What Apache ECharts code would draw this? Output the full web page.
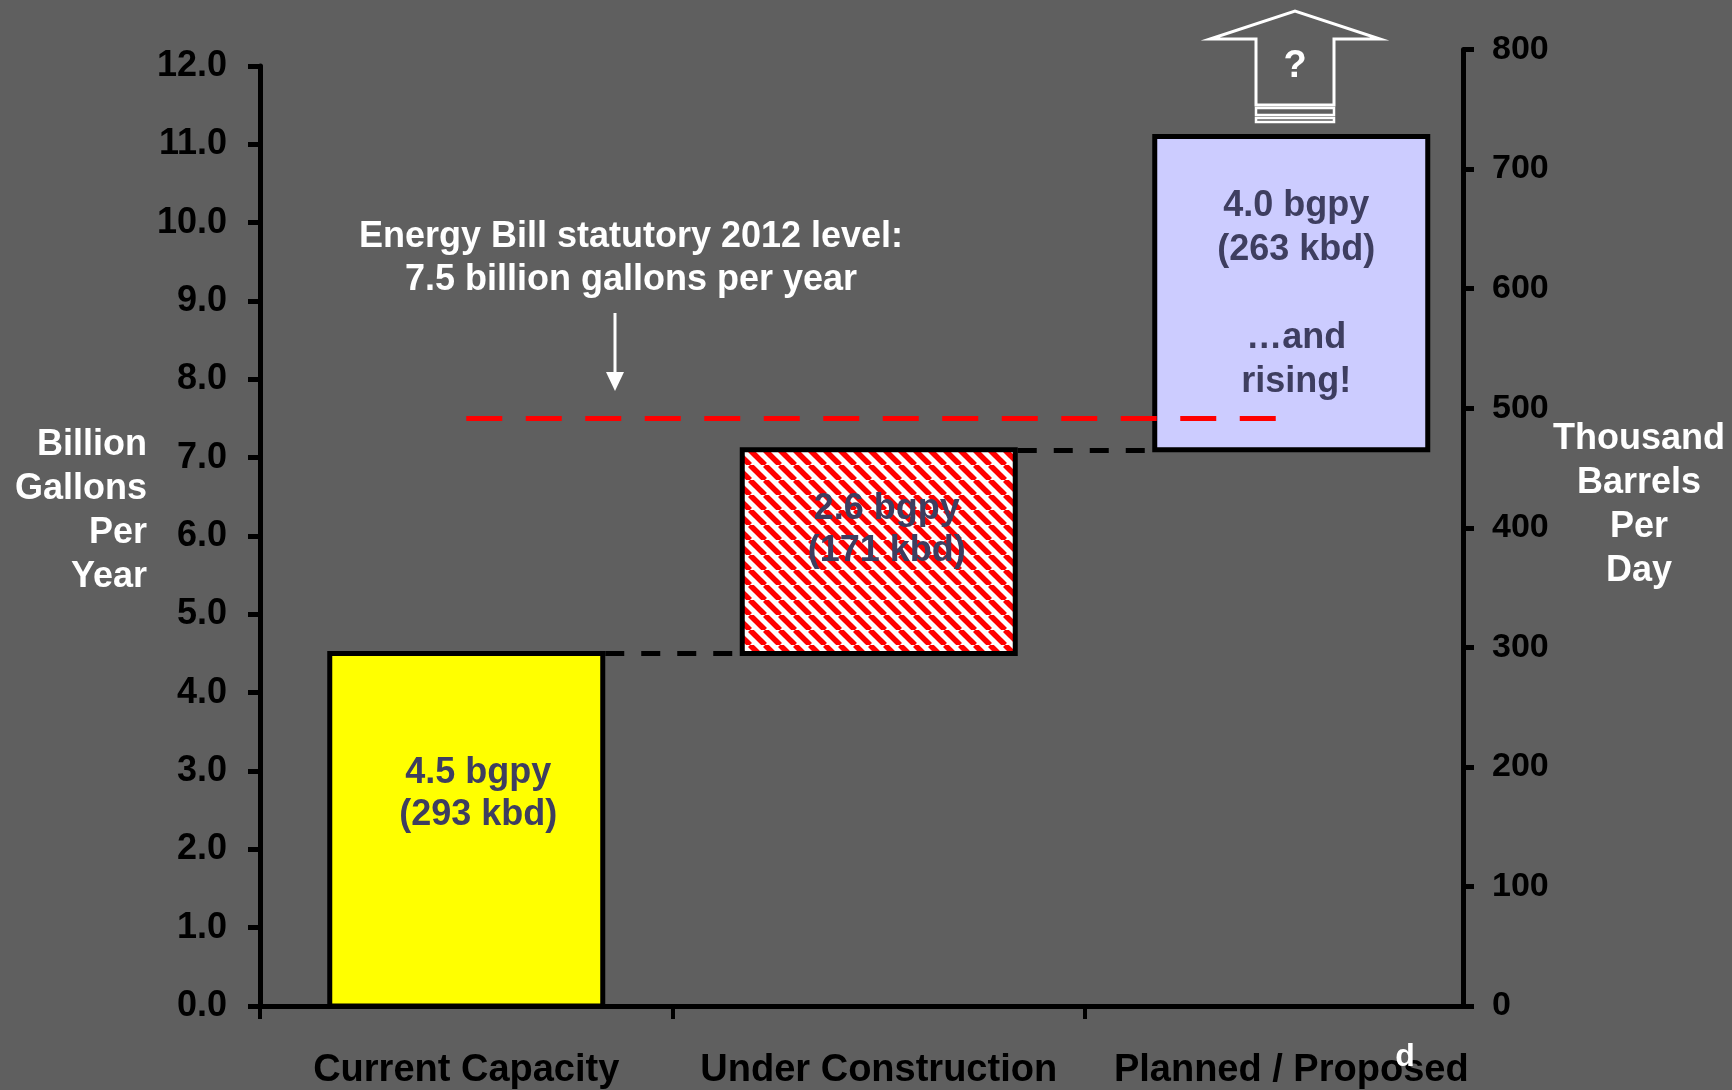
<!DOCTYPE html>
<html>
<head>
<meta charset="utf-8">
<script src="https://cdn.jsdelivr.net/npm/echarts@6/dist/echarts.min.js"></script>
<style>
  html, body { margin: 0; padding: 0; background: #5f5f5f; }
  #chart { width: 1732px; height: 1090px; }
</style>
</head>
<body>
<div id="chart"></div>
<script>
// Ethanol production capacity, drawn as a waterfall of floating bars
const categories = ['Current Capacity', 'Under Construction', 'Planned / Proposed'];
const capacityBgpy = [4.5, 2.6, 4.0];      // billion gallons per year
const capacityKbd = [293, 171, 263];        // thousand barrels per day
const barNotes = ['', '', '\n\n…and\nrising!'];
const statutoryLevel = 7.5;                 // Energy Bill 2012 level, bgpy
const statutoryText = 'Energy Bill statutory 2012 level:\n7.5 billion gallons per year';
const leftAxisRange = [0, 12, 1];
const rightAxisRange = [0, 800, 100];

const FONT = '"Liberation Sans", Arial, Helvetica, sans-serif';
const BAND_PX = 412.5;
const BAR_PX = 273;
const BORDER_PX = 5;
const barHalf = (BAR_PX / 2 + BORDER_PX / 2) / BAND_PX;

// running totals give each floating bar its base
const bases = [];
capacityBgpy.reduce((acc, v, i) => { bases[i] = acc; return acc + v; }, 0);
const xPos = categories.map((_, i) => i + 0.5);

// red / white diagonal hatch
function hatch() {
  const s = 15;
  const c = document.createElement('canvas');
  c.width = s; c.height = s;
  const g = c.getContext('2d');
  g.fillStyle = '#ffffff';
  g.fillRect(0, 0, s, s);
  g.strokeStyle = '#ff0000';
  g.lineWidth = 5.5;
  for (const o of [-s, 0, s]) {
    g.beginPath(); g.moveTo(o, 0); g.lineTo(o + s, s); g.stroke();
  }
  return c;
}

const fills = ['#ffff00', { image: hatch(), repeat: 'repeat' }, '#ccccff'];
const labelOffsets = [[12, -36], [8, -22], [5, 1]];
const labelLineHeights = [42, 42, 44];

const chart = echarts.init(document.getElementById('chart'), null, { renderer: 'canvas' });

function renderBar(params, api) {
  const i = api.value(3);
  const top = api.coord([api.value(0), api.value(2)]);
  const bottom = api.coord([api.value(0), api.value(1)]);
  const cx = top[0];
  const cy = (top[1] + bottom[1]) / 2;
  return {
    type: 'group',
    children: [
      {
        type: 'rect',
        shape: { x: cx - BAR_PX / 2, y: top[1], width: BAR_PX, height: bottom[1] - top[1] },
        style: { fill: fills[i], stroke: '#000', lineWidth: BORDER_PX }
      },
      {
        type: 'text',
        style: {
          x: cx + labelOffsets[i][0], y: cy + labelOffsets[i][1],
          text: capacityBgpy[i].toFixed(1) + ' bgpy\n(' + capacityKbd[i] + ' kbd)' + barNotes[i],
          font: 'bold 36px ' + FONT, fill: '#3e3e60', lineHeight: labelLineHeights[i],
          align: 'center', verticalAlign: 'middle'
        }
      }
    ]
  };
}

chart.setOption({
  backgroundColor: '#5f5f5f',
  animation: false,
  grid: [
    { left: 260, right: 269, top: 66, bottom: 84 },
    { left: 260, right: 269, top: 49.5, bottom: 84 }
  ],
  xAxis: [
    {
      type: 'value', gridIndex: 0, min: 0, max: 1203 / BAND_PX,
      axisLine: { show: true, onZero: false, lineStyle: { color: '#000', width: 5 } },
      axisTick: { show: true, customValues: [0, 1, 2], length: 13, lineStyle: { color: '#000', width: 4 } },
      axisLabel: {
        customValues: xPos,
        formatter: v => categories[Math.floor(v)] || '',
        color: '#000', fontFamily: FONT, fontWeight: 'bold', fontSize: 38, margin: 46
      },
      splitLine: { show: false }
    },
    { type: 'value', gridIndex: 1, min: 0, max: 1, show: false }
  ],
  yAxis: [
    {
      type: 'value', gridIndex: 0, position: 'left',
      min: leftAxisRange[0], max: leftAxisRange[1], interval: leftAxisRange[2],
      axisLine: { show: true, onZero: false, lineStyle: { color: '#000', width: 5 } },
      axisTick: { show: true, length: 12, lineStyle: { color: '#000', width: 5 } },
      axisLabel: {
        formatter: v => v.toFixed(1),
        color: '#000', fontFamily: FONT, fontWeight: 'bold', fontSize: 36, margin: 33
      },
      splitLine: { show: false }
    },
    {
      type: 'value', gridIndex: 1, position: 'right',
      min: rightAxisRange[0], max: rightAxisRange[1], interval: rightAxisRange[2],
      axisLine: { show: true, onZero: false, lineStyle: { color: '#000', width: 5 } },
      axisTick: { show: true, length: 11, lineStyle: { color: '#000', width: 5 } },
      axisLabel: {
        color: '#000', fontFamily: FONT, fontWeight: 'bold', fontSize: 34, margin: 29
      },
      splitLine: { show: false }
    }
  ],
  series: [
    {
      name: 'capacity', type: 'custom', xAxisIndex: 0, yAxisIndex: 0,
      renderItem: renderBar,
      data: xPos.map((x, i) => [x, bases[i], bases[i] + capacityBgpy[i], i]),
      markLine: {
        silent: true, symbol: ['none', 'none'], label: { show: false },
        data: [
          [
            { coord: [xPos[0], statutoryLevel], lineStyle: { color: '#ff0000', width: 5, type: [36, 23.5] } },
            { coord: [2.463, statutoryLevel] }
          ],
          [
            { coord: [xPos[0] + barHalf, bases[1]], lineStyle: { color: '#000', width: 5, type: [19, 17] } },
            { coord: [xPos[1] - barHalf, bases[1]] }
          ],
          [
            { coord: [xPos[1] + barHalf, bases[2]], lineStyle: { color: '#000', width: 5, type: [19, 17] } },
            { coord: [xPos[2] - barHalf, bases[2]] }
          ]
        ]
      },
      z: 2
    }
  ],
  graphic: [
    // axis titles
    {
      type: 'text', z: 10,
      style: {
        x: 147, y: 511, text: 'Billion\nGallons\nPer\nYear',
        font: 'bold 36px ' + FONT, fill: '#ffffff', lineHeight: 44,
        align: 'right', textAlign: 'right', verticalAlign: 'middle', textVerticalAlign: 'middle'
      }
    },
    {
      type: 'text', z: 10,
      style: {
        x: 1639, y: 505, text: 'Thousand\nBarrels\nPer\nDay',
        font: 'bold 36px ' + FONT, fill: '#ffffff', lineHeight: 44,
        align: 'center', textAlign: 'center', verticalAlign: 'middle', textVerticalAlign: 'middle'
      }
    },
    // statutory level callout
    {
      type: 'text', z: 10,
      style: {
        x: 631, y: 259, text: statutoryText,
        font: 'bold 36px ' + FONT, fill: '#ffffff', lineHeight: 43,
        align: 'center', textAlign: 'center', verticalAlign: 'middle', textVerticalAlign: 'middle'
      }
    },
    {
      type: 'line', z: 10,
      shape: { x1: 615, y1: 313, x2: 615, y2: 376 },
      style: { stroke: '#ffffff', lineWidth: 3 }
    },
    {
      type: 'polygon', z: 10,
      shape: { points: [[606, 372], [624, 372], [615, 391]] },
      style: { fill: '#ffffff' }
    },
    // open-ended growth arrow above the planned bar
    {
      type: 'polygon', z: 10,
      shape: { points: [[1256, 105], [1256, 39], [1210, 39], [1295, 11], [1380, 39], [1334, 39], [1334, 105]] },
      style: { fill: 'none', stroke: '#ffffff', lineWidth: 3 }
    },
    {
      type: 'rect', z: 10,
      shape: { x: 1256, y: 108, width: 78, height: 7 },
      style: { fill: 'none', stroke: '#ffffff', lineWidth: 2.5 }
    },
    {
      type: 'rect', z: 10,
      shape: { x: 1256, y: 118, width: 78, height: 4 },
      style: { fill: 'none', stroke: '#ffffff', lineWidth: 2.5 }
    },
    {
      type: 'text', z: 10,
      style: {
        x: 1295, y: 67, text: '?',
        font: 'bold 38px ' + FONT, fill: '#ffffff',
        align: 'center', textAlign: 'center', verticalAlign: 'middle', textVerticalAlign: 'middle'
      }
    },
    {
      type: 'text', z: 20,
      style: {
        x: 1405, y: 1057, text: 'd',
        font: 'bold 32px ' + FONT, fill: '#ffffff',
        align: 'center', textAlign: 'center', verticalAlign: 'middle', textVerticalAlign: 'middle'
      }
    }
  ]
});
</script>
</body>
</html>
